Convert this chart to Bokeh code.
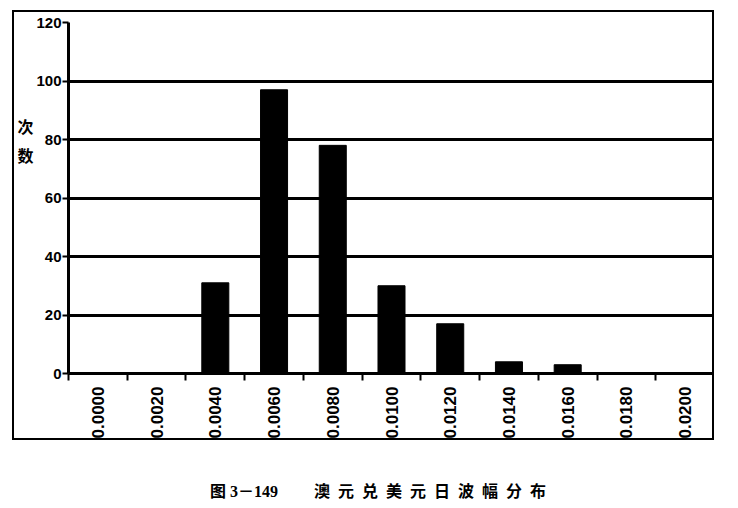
import math
from bokeh.plotting import figure
from bokeh.models import ColumnDataSource, FixedTicker, Div, Range1d
from bokeh.layouts import column
from bokeh.embed import file_html
from bokeh.resources import INLINE

categories = ["0.0000", "0.0020", "0.0040", "0.0060", "0.0080", "0.0100",
              "0.0120", "0.0140", "0.0160", "0.0180", "0.0200"]
counts = [0, 0, 31, 97, 78, 30, 17, 4, 3, 0, 0]
y_ticks = [0, 20, 40, 60, 80, 100, 120]
y_label_chars = ["次", "数"]
fig_number = "图 3－149"
title_text = "澳元兑美元日波幅分布"

n = len(categories)
xc = [i + 0.5 for i in range(n)]
src = ColumnDataSource(dict(x=xc, top=counts, cat=categories))

p = figure(width=702, height=430,
           x_range=Range1d(0, n), y_range=Range1d(0, 120),
           output_backend="svg", toolbar_location=None,
           min_border_left=54, min_border_right=2,
           min_border_top=10, min_border_bottom=69,
           margin=(10, 0, 0, 12),
           styles={"border": "2px solid black"})

p.outline_line_color = None
p.vbar(x="x", top="top", bottom=0, width=0.46, source=src,
       fill_color="black", line_color="black")

p.xgrid.visible = False
p.ygrid.grid_line_color = "black"
p.ygrid.grid_line_width = 3
p.ygrid.ticker = FixedTicker(ticks=y_ticks)

overrides = {}
for xi, c in zip(xc, categories):
    overrides[xi] = c
p.xaxis.ticker = FixedTicker(ticks=xc, minor_ticks=list(range(n + 1)))
p.xaxis.major_label_overrides = overrides
p.xaxis.major_tick_line_color = None
p.xaxis.minor_tick_line_color = "black"
p.xaxis.minor_tick_line_width = 2
p.xaxis.minor_tick_out = 7
p.xaxis.minor_tick_in = 0
p.xaxis.axis_line_width = 3
p.xaxis.axis_line_color = "black"
p.xaxis.major_label_orientation = math.pi / 2
p.xaxis.major_label_standoff = 6
p.xaxis.major_label_text_font = "Liberation Sans"
p.xaxis.major_label_text_font_style = "bold"
p.xaxis.major_label_text_font_size = "17px"
p.xaxis.major_label_text_color = "black"

p.yaxis.ticker = FixedTicker(ticks=y_ticks)
p.yaxis.major_tick_line_color = "black"
p.yaxis.major_tick_line_width = 2
p.yaxis.major_tick_out = 6
p.yaxis.major_tick_in = 0
p.yaxis.minor_tick_line_color = None
p.yaxis.axis_line_width = 3
p.yaxis.axis_line_color = "black"
p.yaxis.major_label_standoff = 1
p.yaxis.major_label_text_font = "Liberation Sans"
p.yaxis.major_label_text_font_style = "bold"
p.yaxis.major_label_text_font_size = "15px"
p.yaxis.major_label_text_color = "black"

# y-axis title: two stacked characters, pushed up by blank lines
p.yaxis.axis_label = "\n".join(y_label_chars + [" "] * 4)
p.yaxis.axis_label_orientation = "horizontal"
p.yaxis.axis_label_standoff = 0
p.yaxis.axis_label_text_font = "Noto Sans CJK SC"
p.yaxis.axis_label_text_font_style = "bold"
p.yaxis.axis_label_text_font_size = "16px"
p.yaxis.axis_label_text_color = "black"

div = Div(text=(f'<span>{fig_number}</span>'
                f'<span style="margin-left:36px;letter-spacing:8px">{title_text}</span>'),
          width=722, height=24, margin=(41, 0, 0, 8),
          styles={"font-family": "'Liberation Serif', 'Noto Sans CJK SC'",
                  "font-weight": "bold", "font-size": "16px",
                  "padding-left": "202px", "white-space": "nowrap"})

layout = column(p, div, spacing=0)
open("out.html", "w").write(file_html(layout, INLINE))
